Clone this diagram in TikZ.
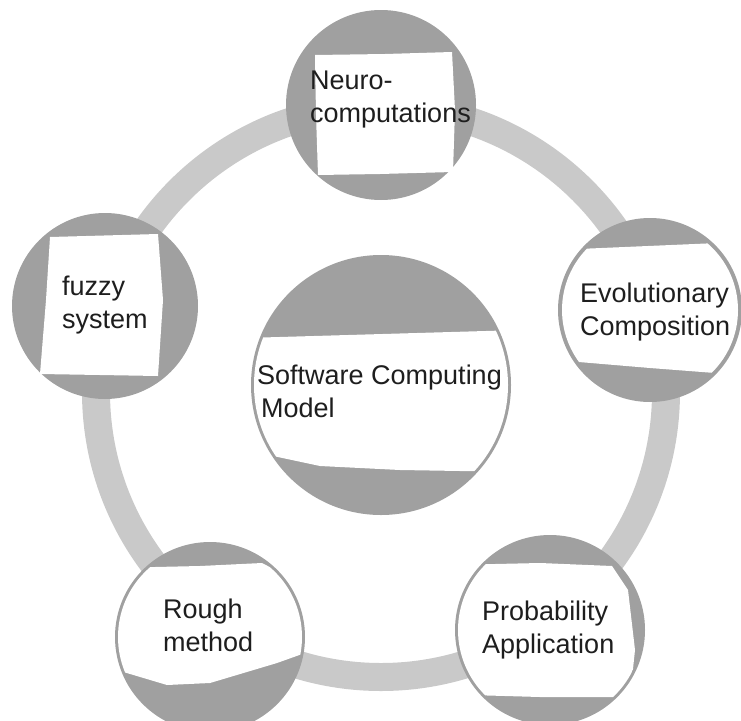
\documentclass[tikz,border=0pt]{standalone}
\usepackage{fontspec}
\setmainfont{Liberation Sans}
\definecolor{ringgray}{RGB}{201,201,201}
\definecolor{discgray}{RGB}{160,160,160}
\definecolor{txt}{RGB}{30,30,30}
\begin{document}
\begin{tikzpicture}[x=1pt,y=-1pt,
  disc/.style={circle,fill=discgray,inner sep=0pt,minimum size=#1},
  lbl/.style={anchor=west,align=left,inner sep=0pt,text=txt,font=\fontsize{27}{33}\selectfont}]
\useasboundingbox (0,0) rectangle (741,720);
% ring
\coordinate (ringc) at (381,392);
\draw[ringgray,line width=28pt] (ringc) circle [radius=285];
% discs
\node[disc=190] (top) at (381,105) {};
\node[disc=186] (left) at (105,306) {};
\node[disc=184] (right) at (650,310) {};
\node[disc=260] (mid) at (381,385) {};
\node[disc=190] (bl) at (210,637) {};
\node[disc=190] (br) at (550,630) {};
% white patches
\fill[white] (315,55) -- (385,54) -- (452,52) -- (455,110) -- (453,172) -- (380,174) -- (318,175) -- (316,115) -- cycle;
\fill[white] (50,237) -- (158,234) -- (163,300) -- (158,376) -- (100,375) -- (40,374) -- (46,300) -- cycle;
\begin{scope}
\clip (right.center) circle [radius=88];
\fill[white] (555,250) -- (741,242) -- (741,375) -- (650,368) -- (555,360) -- cycle;
\end{scope}
\begin{scope}
\clip (mid.center) circle [radius=127];
\fill[white] (245,338) -- (520,330) -- (520,472) -- (400,470) -- (320,466) -- (245,450) -- cycle;
\end{scope}
\begin{scope}
\clip (bl.center) circle [radius=92];
\fill[white] (110,568) -- (200,566) -- (262,563) -- (285,575) -- (300,600) -- (305,653) -- (277,663) -- (210,683) -- (167,685) -- (110,668) -- cycle;
\end{scope}
\begin{scope}
\clip (br.center) circle [radius=92];
\fill[white] (450,565) -- (540,563) -- (612,566) -- (628,590) -- (635,650) -- (630,697) -- (540,697) -- (470,695) -- (450,660) -- cycle;
\end{scope}
% labels
\node[lbl] (ttop) at (310,100) {Neuro-\\computations};
\node[lbl] (tleft) at (62,305) {fuzzy\\system};
\node[lbl] (tright) at (580,312) {Evolutionary\\Composition};
\node[lbl] (tmid) at (257,391) {Software Computing\\\hspace{4pt}Model};
\node[lbl] (tbl) at (163,625) {Rough\\method};
\node[lbl] (tbr) at (482,630) {Probability\\Application};
\end{tikzpicture}
\end{document}
